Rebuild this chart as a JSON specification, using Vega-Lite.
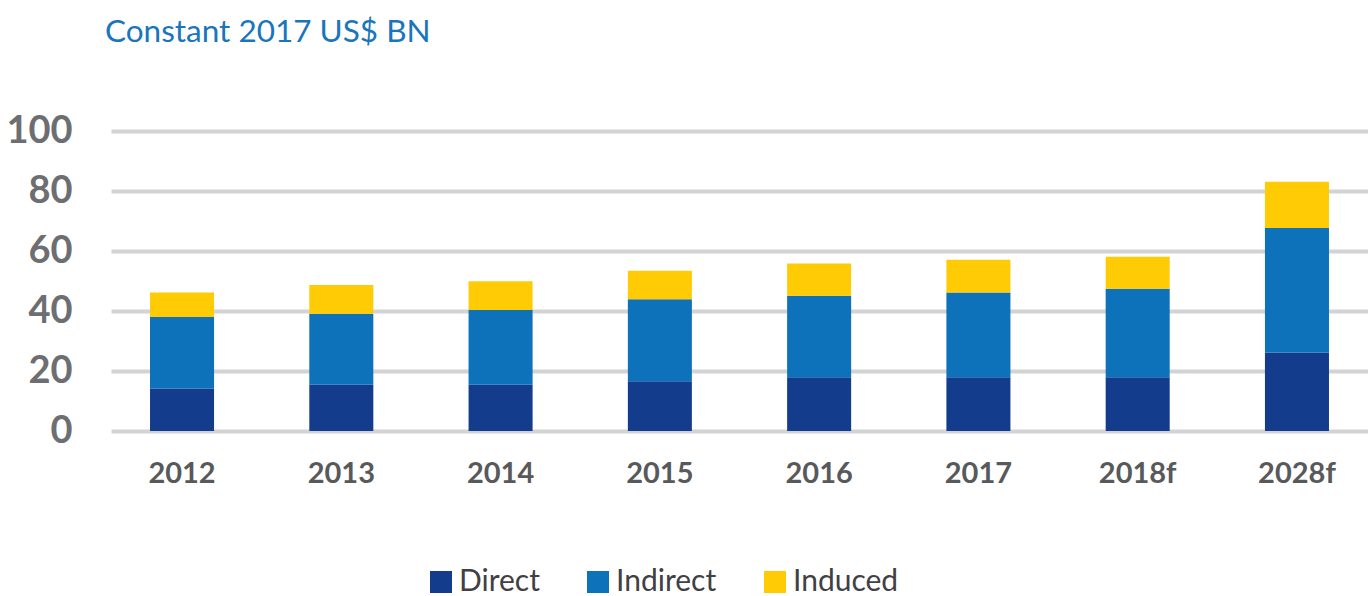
{
  "$schema": "https://vega.github.io/schema/vega-lite/v6.json",
  "width": 1257,
  "height": 300,
  "autosize": "none",
  "padding": {"left": 111, "top": 131, "right": 0, "bottom": 165},
  "background": "white",
  "title": {
    "text": "Constant 2017 US$ BN",
    "anchor": "start",
    "frame": "group",
    "offset": 64,
    "dx": -6,
    "font": "Lato",
    "fontSize": 31.5,
    "fontWeight": "normal",
    "color": "#1a75bb"
  },
  "data": {
    "values": [
      {"year": "2012", "component": "Direct", "value": 14.2},
      {"year": "2012", "component": "Indirect", "value": 23.8},
      {"year": "2012", "component": "Induced", "value": 8.2},
      {"year": "2013", "component": "Direct", "value": 15.4},
      {"year": "2013", "component": "Indirect", "value": 23.7},
      {"year": "2013", "component": "Induced", "value": 9.6},
      {"year": "2014", "component": "Direct", "value": 15.4},
      {"year": "2014", "component": "Indirect", "value": 24.9},
      {"year": "2014", "component": "Induced", "value": 9.6},
      {"year": "2015", "component": "Direct", "value": 16.6},
      {"year": "2015", "component": "Indirect", "value": 27.3},
      {"year": "2015", "component": "Induced", "value": 9.5},
      {"year": "2016", "component": "Direct", "value": 17.9},
      {"year": "2016", "component": "Indirect", "value": 27.2},
      {"year": "2016", "component": "Induced", "value": 10.7},
      {"year": "2017", "component": "Direct", "value": 17.9},
      {"year": "2017", "component": "Indirect", "value": 28.3},
      {"year": "2017", "component": "Induced", "value": 10.9},
      {"year": "2018f", "component": "Direct", "value": 17.9},
      {"year": "2018f", "component": "Indirect", "value": 29.5},
      {"year": "2018f", "component": "Induced", "value": 10.7},
      {"year": "2028f", "component": "Direct", "value": 26.2},
      {"year": "2028f", "component": "Indirect", "value": 41.5},
      {"year": "2028f", "component": "Induced", "value": 15.4}
    ]
  },
  "mark": {"type": "bar"},
  "encoding": {
    "x": {
      "field": "year",
      "type": "nominal",
      "sort": null,
      "scale": {"paddingInner": 0.598, "paddingOuter": 0.245},
      "axis": {
        "title": null,
        "labelAngle": 0,
        "ticks": false,
        "domain": false,
        "labelFont": "Lato",
        "labelFontWeight": "bold",
        "labelFontSize": 29,
        "labelColor": "#58595b",
        "labelPadding": 28
      }
    },
    "y": {
      "field": "value",
      "type": "quantitative",
      "stack": "zero",
      "scale": {"domain": [0, 100]},
      "axis": {
        "title": null,
        "values": [0, 20, 40, 60, 80, 100],
        "ticks": false,
        "domain": false,
        "gridColor": "#d1d3d4",
        "gridWidth": 4,
        "labelFont": "Lato",
        "labelFontSize": 38,
        "labelFontWeight": "bold",
        "labelColor": "#6d6e71",
        "labelPadding": 39
      }
    },
    "order": {"field": "component", "sort": "ascending"},
    "color": {
      "field": "component",
      "type": "nominal",
      "sort": ["Direct", "Indirect", "Induced"],
      "scale": {
        "domain": ["Direct", "Indirect", "Induced"],
        "range": ["#143c8c", "#0d72ba", "#ffcb05"]
      },
      "legend": {
        "title": null,
        "orient": "none",
        "direction": "horizontal",
        "legendX": 315,
        "legendY": 436,
        "symbolType": "square",
        "symbolSize": 484,
        "symbolStrokeWidth": 0,
        "symbolOpacity": 1,
        "labelFont": "Lato",
        "labelFontSize": 30,
        "labelColor": "#414042",
        "labelOffset": 3,
        "columnPadding": 43
      }
    }
  },
  "config": {"view": {"stroke": null}}
}
